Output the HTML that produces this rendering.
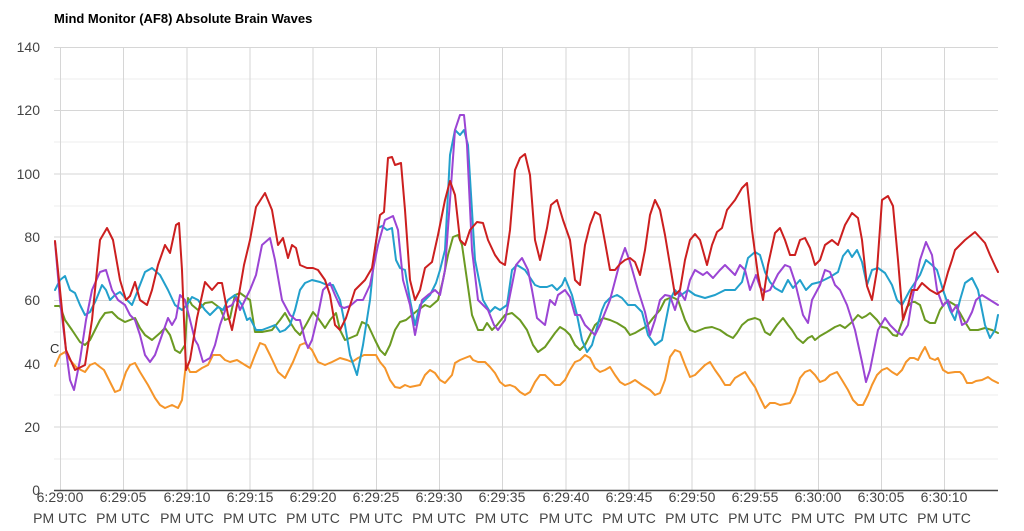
<!DOCTYPE html>
<html><head><meta charset="utf-8"><style>
body{margin:0;background:#fff;}
svg{display:block;font-family:"Liberation Sans",Arial,sans-serif;}
</style></head><body>
<svg width="1024" height="531" viewBox="0 0 1024 531">
<text x="54" y="23" font-size="13" font-weight="bold" fill="#000">Mind Monitor  (AF8) Absolute Brain Waves</text>
<g stroke="#ececec" stroke-width="1">
<line x1="54" x2="998" y1="79" y2="79"/><line x1="54" x2="998" y1="142" y2="142"/><line x1="54" x2="998" y1="206" y2="206"/><line x1="54" x2="998" y1="269" y2="269"/><line x1="54" x2="998" y1="332" y2="332"/><line x1="54" x2="998" y1="395" y2="395"/><line x1="54" x2="998" y1="459" y2="459"/>
</g>
<g stroke="#d6d6d6" stroke-width="1">
<line x1="54" x2="998" y1="47.5" y2="47.5"/><line x1="54" x2="998" y1="110.5" y2="110.5"/><line x1="54" x2="998" y1="174" y2="174"/><line x1="54" x2="998" y1="237" y2="237"/><line x1="54" x2="998" y1="300.5" y2="300.5"/><line x1="54" x2="998" y1="364" y2="364"/><line x1="54" x2="998" y1="427" y2="427"/>
<line x1="60.5" x2="60.5" y1="47" y2="490"/><line x1="123.5" x2="123.5" y1="47" y2="490"/><line x1="187" x2="187" y1="47" y2="490"/><line x1="250" x2="250" y1="47" y2="490"/><line x1="313" x2="313" y1="47" y2="490"/><line x1="376.5" x2="376.5" y1="47" y2="490"/><line x1="439.5" x2="439.5" y1="47" y2="490"/><line x1="502.5" x2="502.5" y1="47" y2="490"/><line x1="566" x2="566" y1="47" y2="490"/><line x1="629" x2="629" y1="47" y2="490"/><line x1="692" x2="692" y1="47" y2="490"/><line x1="755" x2="755" y1="47" y2="490"/><line x1="818.5" x2="818.5" y1="47" y2="490"/><line x1="881.5" x2="881.5" y1="47" y2="490"/><line x1="944.5" x2="944.5" y1="47" y2="490"/>
</g>
<line x1="54" x2="998" y1="490.5" y2="490.5" stroke="#444" stroke-width="1.5"/>
<g font-size="14" fill="#444" text-anchor="end">
<text x="40" y="52">140</text><text x="40" y="115">120</text><text x="40" y="179">100</text><text x="40" y="242">80</text><text x="40" y="305">60</text><text x="40" y="369">40</text><text x="40" y="432">20</text><text x="40" y="495">0</text>
</g>
<g font-size="14" fill="#444" text-anchor="middle">
<text x="60" y="502">6:29:00</text><text x="60" y="523">PM UTC</text>
<text x="123" y="502">6:29:05</text><text x="123" y="523">PM UTC</text>
<text x="187" y="502">6:29:10</text><text x="187" y="523">PM UTC</text>
<text x="250" y="502">6:29:15</text><text x="250" y="523">PM UTC</text>
<text x="313" y="502">6:29:20</text><text x="313" y="523">PM UTC</text>
<text x="376" y="502">6:29:25</text><text x="376" y="523">PM UTC</text>
<text x="439" y="502">6:29:30</text><text x="439" y="523">PM UTC</text>
<text x="502" y="502">6:29:35</text><text x="502" y="523">PM UTC</text>
<text x="566" y="502">6:29:40</text><text x="566" y="523">PM UTC</text>
<text x="629" y="502">6:29:45</text><text x="629" y="523">PM UTC</text>
<text x="692" y="502">6:29:50</text><text x="692" y="523">PM UTC</text>
<text x="755" y="502">6:29:55</text><text x="755" y="523">PM UTC</text>
<text x="818" y="502">6:30:00</text><text x="818" y="523">PM UTC</text>
<text x="881" y="502">6:30:05</text><text x="881" y="523">PM UTC</text>
<text x="944" y="502">6:30:10</text><text x="944" y="523">PM UTC</text>
</g>
<text x="50" y="353" font-size="13" fill="#333">C</text>
<g fill="none" stroke-width="2" stroke-linejoin="round" stroke-linecap="round">
<polyline stroke="#f5952a" points="55,366 60,355 65,352 70,360 77,368 85,372 90,365 95,363 100,367 104,370 110,382 115,392 120,390 126,372 130,365 135,363 140,372 148,385 155,398 160,405 165,408 172,405 178,408 182,400 186,363 190,372 196,372 202,368 208,365 213,355 220,355 225,360 230,362 237,360 245,365 250,368 255,355 260,343 265,345 270,355 278,372 285,378 293,362 300,345 305,343 312,350 318,362 325,365 332,362 340,358 347,360 352,362 358,358 364,355 370,355 376,355 380,362 385,368 390,380 395,387 400,388 405,385 410,387 415,386 420,385 425,375 430,370 435,373 440,380 445,383 452,375 455,363 460,360 465,358 470,356 473,360 478,362 485,362 490,367 495,373 500,382 505,386 510,385 515,387 520,392 525,395 530,392 535,382 540,375 545,375 550,380 555,385 560,385 565,380 570,370 575,362 580,360 585,355 590,358 595,368 600,372 605,370 610,367 615,375 620,382 625,385 630,383 635,380 642,385 650,390 655,395 660,393 665,380 670,357 675,350 680,352 685,365 690,377 695,375 700,370 705,365 710,362 715,370 720,377 725,385 730,385 735,378 740,375 745,372 750,380 755,387 760,398 765,408 770,403 775,403 780,405 790,403 795,393 800,378 805,372 810,370 815,375 820,382 825,380 830,375 837,372 842,380 848,390 853,400 858,405 863,405 868,395 872,385 877,375 882,370 887,368 892,372 897,375 902,370 906,362 910,358 914,358 918,360 922,352 925,347 930,358 935,360 938,358 943,370 948,373 955,372 960,372 963,375 967,383 972,383 976,381 982,380 988,377 992,380 998,383"/>
<polyline stroke="#6b9a22" points="55,306 60,306 65,320 72,330 80,342 85,345 90,340 95,330 100,320 105,313 112,312 118,318 125,322 130,320 135,318 140,328 145,335 152,340 160,333 165,328 170,335 175,350 180,353 185,345 188,298 192,305 198,310 205,303 212,302 220,308 225,320 230,318 235,295 240,293 247,298 250,300 255,332 262,332 272,330 280,320 285,313 290,322 295,330 300,335 307,323 313,312 318,318 325,328 330,320 336,313 340,330 345,340 350,338 357,335 362,322 368,325 375,340 380,350 385,355 390,345 395,330 400,322 406,320 412,315 418,310 425,305 430,307 438,300 443,280 448,255 453,237 458,235 462,245 467,280 472,315 478,330 483,330 487,323 492,330 497,325 505,315 512,313 520,320 527,330 533,345 538,352 545,347 550,340 555,333 560,327 565,330 570,335 575,345 580,350 585,345 590,335 595,325 603,318 610,320 617,323 625,328 630,335 635,333 640,330 647,326 653,318 660,310 665,300 672,297 678,300 685,320 690,330 695,332 700,330 705,328 712,327 720,330 727,335 733,338 737,333 742,325 748,320 755,318 760,320 765,332 770,335 777,325 783,318 788,325 792,330 797,338 803,343 808,338 812,336 815,340 820,336 827,332 835,327 840,325 845,328 852,322 858,315 862,318 866,316 870,313 877,320 882,327 887,328 893,335 897,336 902,322 907,307 912,302 915,302 920,305 925,320 930,323 935,323 940,310 945,303 950,302 955,305 960,313 965,322 970,330 978,330 985,328 992,330 998,333"/>
<polyline stroke="#22a0cc" points="55,290 60,280 65,276 70,290 75,293 80,305 85,315 90,312 96,300 102,285 106,290 110,300 115,295 120,292 127,300 132,305 138,290 145,272 152,268 160,275 168,290 175,305 182,310 187,305 192,297 198,300 205,310 210,315 215,310 218,307 223,310 228,300 235,295 242,305 247,320 250,318 256,330 262,330 270,327 275,325 280,332 285,330 290,325 295,310 300,290 305,283 312,280 320,282 327,285 333,285 340,300 345,325 350,355 357,375 363,345 370,300 375,250 378,228 382,226 387,230 392,228 396,260 400,268 405,270 410,300 415,325 420,305 425,300 430,295 436,283 440,270 445,250 450,155 455,130 460,135 464,130 468,145 475,260 483,300 490,312 495,307 500,310 507,305 512,270 517,265 525,270 535,285 540,287 547,287 552,285 557,290 562,285 565,278 572,295 577,315 582,340 587,352 592,345 597,327 602,310 605,303 610,298 617,295 622,298 628,305 635,305 642,312 648,335 655,345 662,340 670,300 675,290 680,296 688,290 695,295 705,298 715,295 725,290 735,290 742,282 748,258 755,252 760,255 765,272 770,282 775,288 782,292 788,280 793,288 800,280 806,290 812,284 820,282 830,277 838,272 843,256 848,250 852,257 857,250 862,262 867,285 872,270 878,268 885,273 892,285 897,300 902,305 910,290 920,275 926,260 932,265 937,270 943,290 950,310 955,320 960,300 965,283 972,278 978,290 985,325 990,338 995,330 998,315"/>
<polyline stroke="#9b45d4" points="55,242 60,300 66,350 70,380 74,390 80,360 86,320 92,290 100,272 106,270 112,290 118,300 125,305 130,315 135,320 140,335 145,355 150,362 155,355 162,335 168,318 172,325 176,318 180,295 185,300 190,320 195,340 198,345 203,362 210,358 215,345 220,325 226,308 232,305 236,298 240,310 245,300 250,290 256,275 262,245 270,238 275,260 282,300 290,315 296,320 300,320 305,340 308,348 312,340 318,315 323,290 330,283 335,295 340,306 344,308 350,306 357,300 363,300 370,285 378,245 385,220 393,216 398,230 403,280 410,305 415,335 418,320 422,300 428,295 435,290 440,295 445,270 450,200 455,130 460,115 464,115 467,145 472,250 478,300 483,305 488,310 494,325 498,330 505,320 510,295 516,265 522,258 528,270 532,290 537,318 545,325 550,300 555,305 558,295 565,290 570,297 575,315 580,315 585,325 590,330 595,335 600,325 610,300 620,262 625,248 630,262 638,290 645,312 650,335 655,320 660,300 665,295 670,296 675,310 680,292 685,300 690,280 695,270 703,275 707,272 713,278 720,270 725,265 730,270 735,275 740,265 745,270 750,290 756,275 760,287 765,292 770,290 778,274 785,265 790,267 795,282 803,315 808,323 812,300 820,285 825,270 830,272 835,285 840,290 847,305 855,330 862,362 866,382 870,370 878,330 885,318 890,325 897,332 902,335 908,325 912,300 920,260 926,242 932,255 937,290 943,306 948,300 952,312 957,305 962,325 967,322 972,312 976,300 982,295 990,300 998,305"/>
<polyline stroke="#cc1f1f" points="55,241 60,290 66,350 75,370 85,365 92,320 100,240 107,228 113,240 120,280 126,300 130,296 135,282 140,300 147,305 152,290 158,265 165,245 170,253 176,225 179,223 182,270 186,370 190,360 197,318 205,282 212,290 218,283 222,283 228,315 232,330 238,300 244,265 250,240 256,207 265,193 272,210 278,245 283,238 288,258 292,245 296,248 300,265 307,268 313,268 318,270 325,280 330,295 335,325 340,330 346,318 355,290 365,280 372,268 377,235 380,215 384,212 388,158 392,157 395,165 401,163 405,210 410,280 415,300 420,290 425,268 432,262 438,235 445,200 450,181 455,195 460,240 465,245 470,230 477,222 483,223 488,240 495,255 500,262 505,265 510,230 515,170 520,158 525,154 530,175 535,240 540,260 547,228 551,205 557,200 563,220 570,240 575,280 580,285 585,245 590,225 595,212 600,215 605,242 610,270 615,270 620,264 625,260 630,258 635,262 640,275 645,250 650,215 655,200 660,210 665,235 670,265 675,295 680,290 685,260 690,240 695,234 700,240 707,265 712,245 717,232 722,228 727,210 735,200 742,188 747,183 752,230 758,275 763,300 768,265 775,233 780,228 785,240 790,255 795,255 800,240 805,238 810,248 815,265 820,260 825,245 832,240 838,245 845,225 852,213 858,218 862,240 867,286 872,300 877,270 882,200 888,196 893,206 898,260 903,320 908,305 912,290 917,290 922,283 930,290 937,294 943,290 948,272 952,260 955,250 960,245 965,240 975,232 985,243 990,255 996,268 998,272"/>
</g>
</svg>
</body></html>
